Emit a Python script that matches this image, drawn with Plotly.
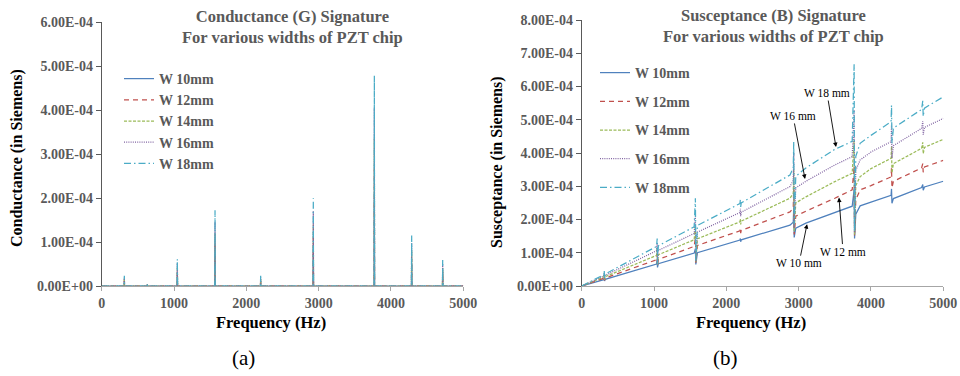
import plotly.graph_objects as go

UNIT = 1e-4  # values below are in units of 1e-4 Siemens

# ---------------- Data ----------------
SERIES = ["W 10mm", "W 12mm", "W 14mm", "W 16mm", "W 18mm"]
COLORS = ["#4F81BD", "#C0504D", "#9BBB59", "#8064A2", "#4BACC6"]
DASHES = ["solid", "5px,4px", "3px,1.5px", "1px,1.2px", "7px,3px,1.5px,3px"]

# Conductance (G): resonance peak frequencies (Hz) and peak heights per width
G_PEAK_FREQ = [313, 631, 1046, 1567, 2198, 2926, 3770, 4286, 4715]
G_W10 = [0.11, 0.02, 0.26, 0.72, 0.10, 0.84, 2.00, 0.48, 0.25]
G_W12 = [0.14, 0.03, 0.34, 0.95, 0.13, 1.10, 2.65, 0.63, 0.33]
G_W14 = [0.17, 0.04, 0.43, 1.20, 0.16, 1.40, 3.35, 0.80, 0.41]
G_W16 = [0.20, 0.04, 0.52, 1.46, 0.20, 1.70, 4.05, 0.98, 0.50]
G_W18 = [0.23, 0.05, 0.61, 1.72, 0.23, 2.00, 4.78, 1.15, 0.59]

# Susceptance (B): frequency points (Hz) and values per width
B_FREQ = [0, 305, 312, 316, 325, 1035, 1044, 1048, 1060, 1555, 1572, 1578, 1600,
          2188, 2194, 2198, 2206, 2880, 2925, 2932, 2938, 2960, 3100, 3500, 3740,
          3767, 3773, 3790, 3850, 4000, 4278, 4284, 4290, 4310, 4700, 4716, 4722,
          4740, 5000]
B_W10 = [0, 0.19, 0.23, 0.15, 0.20, 0.66, 0.80, 0.56, 0.67, 0.99, 1.12, 0.65, 1.00,
         1.38, 1.43, 1.33, 1.39, 1.83, 1.92, 2.35, 1.46, 1.74, 1.89, 2.21, 2.40,
         2.90, 1.43, 2.16, 2.41, 2.52, 2.73, 2.92, 2.49, 2.63, 2.96, 3.05, 2.88,
         2.98, 3.15]
B_W12 = [0, 0.23, 0.30, 0.17, 0.24, 0.79, 0.98, 0.60, 0.80, 1.19, 1.45, 0.70, 1.22,
         1.66, 1.73, 1.59, 1.67, 2.23, 2.34, 2.95, 1.55, 2.10, 2.25, 2.64, 2.89,
         3.60, 1.50, 2.60, 2.89, 3.02, 3.28, 3.55, 2.95, 3.15, 3.55, 3.68, 3.42,
         3.58, 3.78]
B_W14 = [0, 0.27, 0.36, 0.19, 0.28, 0.92, 1.15, 0.62, 0.94, 1.39, 1.80, 0.72, 1.42,
         1.93, 2.02, 1.85, 1.95, 2.64, 2.78, 3.50, 1.65, 2.50, 2.68, 3.14, 3.39,
         4.40, 1.55, 3.02, 3.29, 3.53, 3.84, 4.20, 3.40, 3.68, 4.14, 4.32, 3.98,
         4.17, 4.41]
B_W16 = [0, 0.30, 0.41, 0.21, 0.32, 1.06, 1.30, 0.64, 1.07, 1.58, 2.10, 0.74, 1.62,
         2.21, 2.32, 2.10, 2.22, 2.99, 3.18, 4.00, 1.75, 2.95, 3.15, 3.64, 3.89,
         5.30, 1.60, 3.48, 3.79, 4.03, 4.34, 4.85, 3.85, 4.22, 4.74, 4.95, 4.55,
         4.77, 5.04]
B_W18 = [0, 0.34, 0.46, 0.23, 0.36, 1.19, 1.43, 0.66, 1.21, 1.78, 2.64, 0.76, 1.82,
         2.48, 2.60, 2.38, 2.50, 3.34, 3.55, 4.34, 1.85, 3.30, 3.55, 4.11, 4.35,
         6.67, 1.65, 3.90, 4.29, 4.53, 4.94, 5.44, 4.29, 4.75, 5.31, 5.57, 5.10,
         5.35, 5.69]

X_TICKS = [0, 1000, 2000, 3000, 4000, 5000]
X_TICK_TEXT = ["0", "1000", "2000", "3000", "4000", "5000"]
G_TICKS = [0, 1, 2, 3, 4, 5, 6]
G_TICK_TEXT = ["0.00E+00", "1.00E-04", "2.00E-04", "3.00E-04", "4.00E-04",
               "5.00E-04", "6.00E-04"]
B_TICKS = [0, 1, 2, 3, 4, 5, 6, 7, 8]
B_TICK_TEXT = ["0.00E+00", "1.00E-04", "2.00E-04", "3.00E-04", "4.00E-04",
               "5.00E-04", "6.00E-04", "7.00E-04", "8.00E-04"]

# Callouts on the susceptance chart: (label, freq, value)
B_CALLOUTS = [("W 18 mm", 3516, 4.18), ("W 16 mm", 3088, 3.22),
              ("W 10 mm", 3116, 1.86), ("W 12 mm", 3558, 2.66)]
CALLOUT_OFFSETS = [(-9, -54), (-12, -63), (-8, 39), (4, 54)]

# ---------------- Figure ----------------
SERIF = "Liberation Serif"
GRAY = "#595959"

def spikes(freqs, heights):
    xs, ys = [0], [0]
    for f, h in zip(freqs, heights):
        xs += [f - 3, f, f + 3]
        ys += [0, h * UNIT, 0]
    xs.append(5000)
    ys.append(0)
    return xs, ys

fig = go.Figure()

G_ALL = [G_W10, G_W12, G_W14, G_W16, G_W18]
B_ALL = [B_W10, B_W12, B_W14, B_W16, B_W18]

for i, name in enumerate(SERIES):
    xs, ys = spikes(G_PEAK_FREQ, G_ALL[i])
    fig.add_trace(go.Scatter(
        x=xs, y=ys, mode="lines", name=name, xaxis="x", yaxis="y",
        line=dict(color=COLORS[i], width=1.25, dash=DASHES[i]),
        legend="legend", legendgroup="g" + str(i)))

for i, name in enumerate(SERIES):
    fig.add_trace(go.Scatter(
        x=B_FREQ, y=[v * UNIT for v in B_ALL[i]], mode="lines", name=name,
        xaxis="x2", yaxis="y2",
        line=dict(color=COLORS[i], width=1.25, dash=DASHES[i]),
        legend="legend2", legendgroup="b" + str(i)))

W, H = 960, 376
tickfont = dict(family=SERIF, size=14, color=GRAY, weight="bold")

def xaxis(domain, anchor):
    return dict(domain=domain, anchor=anchor, range=[0, 5000], tickvals=X_TICKS,
                ticktext=X_TICK_TEXT, showline=True, linecolor="#a6a6a6",
                linewidth=1, ticks="outside", ticklen=4, tickcolor="#a6a6a6",
                showgrid=False, zeroline=False, tickfont=tickfont, fixedrange=True,
                automargin=False)

def yaxis(domain, anchor, top, vals, text):
    return dict(domain=domain, anchor=anchor, range=[0, top * UNIT],
                tickvals=[v * UNIT for v in vals], ticktext=text,
                showline=True, linecolor=GRAY, linewidth=1, ticks="outside",
                ticklen=5, tickcolor=GRAY, showgrid=False, zeroline=False,
                tickfont=tickfont, fixedrange=True, automargin=False)

y_bot = 1 - 286 / H
fig.update_layout(
    width=W, height=H, margin=dict(l=0, r=0, t=0, b=0, autoexpand=False),
    paper_bgcolor="white", plot_bgcolor="white",
    xaxis=xaxis([101.7 / W, 463.3 / W], "y"),
    yaxis=yaxis([y_bot, 1 - 22 / H], "x", 6, G_TICKS, G_TICK_TEXT),
    xaxis2=xaxis([581.7 / W, 943.3 / W], "y2"),
    yaxis2=yaxis([y_bot, 1 - 20 / H], "x2", 8, B_TICKS, B_TICK_TEXT),
    legend=dict(x=119 / W, y=1 - 63 / H, xanchor="left", yanchor="top",
                font=dict(family=SERIF, size=14, color=GRAY, weight="bold"),
                tracegroupgap=0, bgcolor="rgba(0,0,0,0)", itemwidth=30),
    legend2=dict(x=595 / W, y=1 - 57 / H, xanchor="left", yanchor="top",
                 font=dict(family=SERIF, size=14, color=GRAY, weight="bold"),
                 tracegroupgap=7.5, bgcolor="rgba(0,0,0,0)", itemwidth=30),
    showlegend=True,
)

ann = []
bold = lambda s, c=GRAY: dict(family=SERIF, size=s, color=c, weight="bold")
def text_ann(text, x, y, font, angle=0):
    return dict(text=text, x=x / W, y=1 - y / H, xref="paper", yref="paper",
                xanchor="center", yanchor="middle", showarrow=False,
                textangle=angle, font=font)

ann.append(text_ann("Conductance (G) Signature<br>For various widths of PZT chip",
                    292, 27, bold(16.5)))
ann.append(text_ann("Susceptance (B) Signature<br>For various widths of PZT chip",
                    773, 26, bold(16.5)))
ann.append(text_ann("Frequency (Hz)", 271, 322, bold(16.5, "black")))
ann.append(text_ann("Frequency (Hz)", 751, 322, bold(16.5, "black")))
ann.append(text_ann("Conductance (in Siemens)", 17, 158, bold(16, "black"), -90))
ann.append(text_ann("Susceptance (in Siemens)", 497, 162, bold(16, "black"), -90))
ann.append(text_ann("(a)", 243, 358, dict(family=SERIF, size=21, color="black")))
ann.append(text_ann("(b)", 725, 358, dict(family=SERIF, size=21, color="black")))
for (label, f, v), (ax, ay) in zip(B_CALLOUTS, CALLOUT_OFFSETS):
    ann.append(dict(text=label, x=f, y=v * UNIT, xref="x2", yref="y2",
                    showarrow=True, ax=ax, ay=ay, arrowhead=2, arrowsize=1,
                    arrowwidth=0.9, arrowcolor="black",
                    font=dict(family=SERIF, size=11.5, color="black")))
fig.update_layout(annotations=ann)

fig.write_html("out.html",
               config={"displayModeBar": False},
               post_script="document.body.style.margin='0';")
